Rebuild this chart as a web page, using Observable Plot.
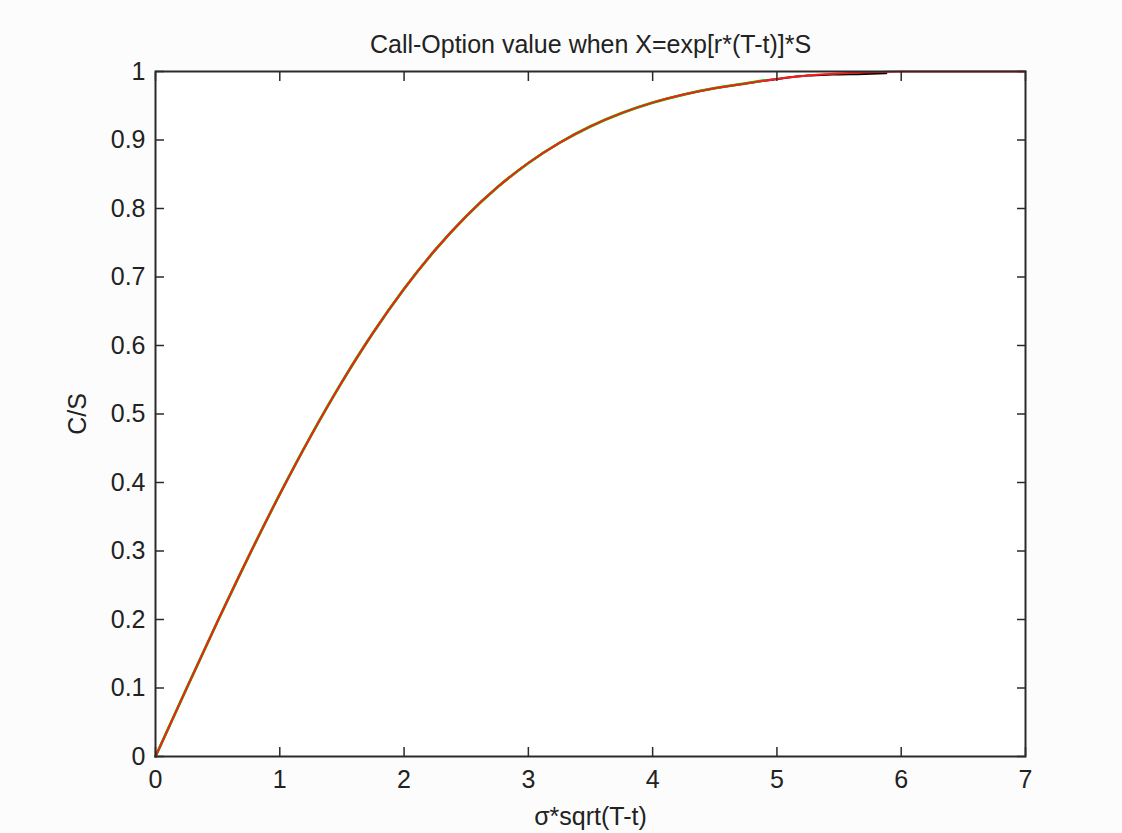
<!DOCTYPE html>
<html>
<head>
<meta charset="utf-8">
<script src="https://cdn.jsdelivr.net/npm/d3@7"></script>
<script src="https://cdn.jsdelivr.net/npm/@observablehq/plot@0.6"></script>
<style>
  html, body { margin: 0; padding: 0; background: #fcfcfc; }
  #chart svg { display: block; }
</style>
</head>
<body>
<div id="chart"></div>
<script>
const titleText = "Call-Option value when X=exp[r*(T-t)]*S";
const xLabel = "σ*sqrt(T-t)";
const yLabel = "C/S";
const xTicks = [0, 1, 2, 3, 4, 5, 6, 7];
const yTicks = [0, 0.1, 0.2, 0.3, 0.4, 0.5, 0.6, 0.7, 0.8, 0.9, 1];

// values
const redX = [0, 0.25, 0.5, 0.75, 1, 1.25, 1.5, 1.75, 2, 2.25, 2.5, 2.75, 3, 3.25, 3.5, 3.75, 4, 4.25, 4.5, 4.75, 5, 5.25, 5.5, 5.75, 6, 6.25, 6.5, 6.75, 7];
const redY = [0, 0.0995, 0.1974, 0.2923, 0.3829, 0.468, 0.5467, 0.6184, 0.6827, 0.7394, 0.7887, 0.8309, 0.8664, 0.8958, 0.9199, 0.9392, 0.9545, 0.9664, 0.9756, 0.9825, 0.989, 0.994, 0.997, 0.999, 1, 1, 1, 1, 1];

const greenX = [0, 0.25, 0.5, 0.75, 1, 1.25, 1.5, 1.75, 2, 2.25, 2.5, 2.75, 3, 3.25, 3.5, 3.75, 4, 4.25, 4.5, 4.75, 4.9];
const greenY = [0, 0.0995, 0.1974, 0.2923, 0.3829, 0.468, 0.5467, 0.6184, 0.6827, 0.7394, 0.7887, 0.8309, 0.8664, 0.8958, 0.9199, 0.9392, 0.9545, 0.9664, 0.9756, 0.9825, 0.987];

const blackX = [0, 0.25, 0.5, 0.75, 1, 1.25, 1.5, 1.75, 2, 2.25, 2.5, 2.75, 3, 3.25, 3.5, 3.75, 4, 4.25, 4.5, 4.75, 5, 5.25, 5.45, 5.7, 5.88];
const blackY = [0, 0.0995, 0.1974, 0.2923, 0.3829, 0.468, 0.5467, 0.6184, 0.6827, 0.7394, 0.7887, 0.8309, 0.8664, 0.8958, 0.9199, 0.9392, 0.9545, 0.9664, 0.9756, 0.9825, 0.989, 0.994, 0.9955, 0.9965, 0.9975];

const red = redX.map((x, i) => ({x, y: redY[i]}));
const green = greenX.map((x, i) => ({x, y: greenY[i]}));
const black = blackX.map((x, i) => ({x, y: blackY[i]}));

const font = "'Liberation Sans', Arial, Helvetica, sans-serif";
const axisColor = "#2a2a2a";

const chart = Plot.plot({
  width: 1122,
  height: 833,
  marginLeft: 155,
  marginRight: 97,
  marginTop: 71,
  marginBottom: 77,
  style: {fontFamily: font, fontSize: "25px", background: "#fcfcfc", color: "#222"},
  x: {domain: [0, 7]},
  y: {domain: [0, 1]},
  marks: [
    Plot.rect([0], {x1: 0, x2: 7, y1: 0, y2: 1, fill: "white"}),
    Plot.line(black, {x: "x", y: "y", stroke: "black", strokeWidth: 2, curve: "monotone-x"}),
    Plot.line(green, {x: "x", y: "y", stroke: "#00e000", strokeWidth: 2.8, curve: "monotone-x"}),
    Plot.line(red, {x: "x", y: "y", stroke: "#ff1a1a", strokeWidth: 2, curve: "monotone-x"}),
    Plot.axisX(xTicks, {anchor: "bottom", tickSize: -9, fill: "none", label: null, stroke: axisColor, strokeWidth: 1.5}),
    Plot.axisX(xTicks, {anchor: "top", tickSize: -9, fill: "none", label: null, stroke: axisColor, strokeWidth: 1.5}),
    Plot.axisY(yTicks, {anchor: "left", tickSize: -9, fill: "none", label: null, stroke: axisColor, strokeWidth: 1.5}),
    Plot.axisY(yTicks, {anchor: "right", tickSize: -9, fill: "none", label: null, stroke: axisColor, strokeWidth: 1.5}),
    Plot.axisX(xTicks, {anchor: "bottom", tickSize: 0, tickPadding: 14, tickFormat: d => String(d), label: xLabel, labelAnchor: "center", labelOffset: 68, labelArrow: "none", fontSize: 25}),
    Plot.axisY(yTicks, {anchor: "left", tickSize: 0, tickPadding: 10, tickFormat: d => String(d), label: yLabel, labelAnchor: "center", labelOffset: 87, labelArrow: "none", fontSize: 25}),
    Plot.frame({stroke: axisColor, strokeWidth: 2}),
    Plot.text([titleText], {frameAnchor: "top", dy: -36, text: d => d, fontSize: 25, fill: "#222"})
  ]
});
document.getElementById("chart").appendChild(chart);
</script>
</body>
</html>
